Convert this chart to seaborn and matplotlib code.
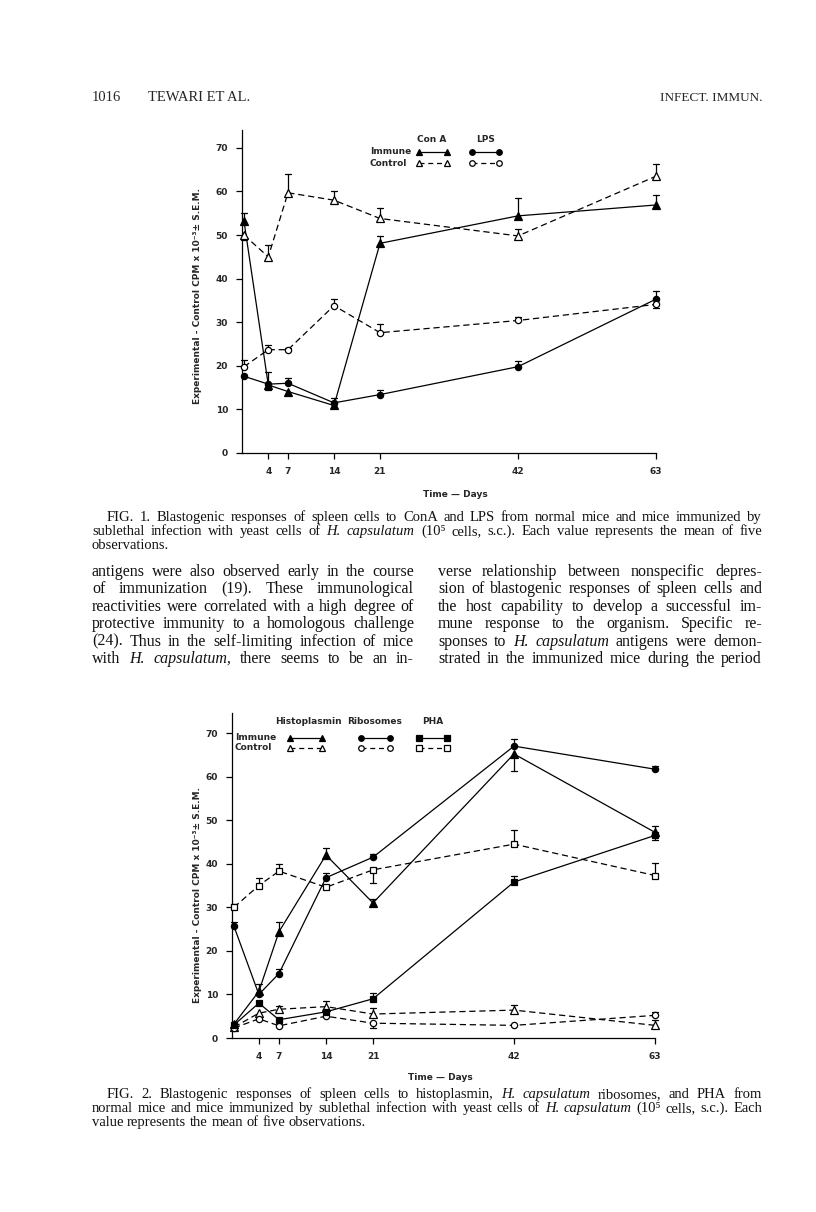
import matplotlib
matplotlib.use("Agg")
import matplotlib.pyplot as plt
from matplotlib.lines import Line2D
import seaborn as sns

# Fig. 1 data
days1 = [0.3, 4, 7, 14, 21, 42, 63]
cona_immune = [53.2, 15.6, 14.1, 10.9, 48.1, 54.4, 56.9]
cona_immune_up = [1.8, 3.0, 0, 0, 1.7, 4.1, 2.3]
cona_immune_dn = [0, 0, 0, 0, 0, 0, 0]
lps_immune = [17.6, 15.8, 16.0, 11.5, 13.4, 19.8, 35.3]
lps_immune_up = [0, 0, 1.3, 1.2, 1.1, 1.3, 1.9]
lps_immune_dn = [0, 1.4, 0, 0, 0, 0, 0]
cona_control = [50.0, 45.0, 59.7, 58.0, 53.8, 49.8, 63.5]
cona_control_up = [0, 2.7, 4.2, 2.2, 2.3, 1.7, 2.8]
cona_control_dn = [1.1, 0, 0, 0, 0, 0, 0]
lps_control = [19.8, 23.7, 23.7, 33.8, 27.6, 30.4, 34.1]
lps_control_up = [1.6, 1.0, 0.5, 1.5, 2.0, 0.7, 0]
lps_control_dn = [0, 0, 0, 0, 0, 0, 0.9]

# Fig. 2 data
days2 = [0.3, 4, 7, 14, 21, 42, 63]
histo_immune = [3.2, 10.7, 24.4, 42.0, 31.0, 65.2, 47.2]
histo_immune_up = [0, 1.6, 2.3, 1.6, 0.8, 0, 1.4]
histo_immune_dn = [0, 0, 0, 0, 0.6, 3.9, 0]
ribo_immune = [25.6, 10.0, 14.8, 36.8, 41.5, 67.0, 61.7]
ribo_immune_up = [1.0, 0, 1.0, 1.0, 0.7, 1.7, 0.8]
ribo_immune_dn = [0, 0, 0, 0, 0, 0, 0]
pha_immune = [3.0, 8.0, 4.2, 6.0, 9.0, 35.8, 46.5]
pha_immune_up = [0, 0, 0, 0, 1.3, 1.5, 0]
pha_immune_dn = [0, 0, 0, 0, 0, 0, 1.0]
histo_control = [2.5, 5.7, 6.6, 7.2, 5.5, 6.4, 2.9]
histo_control_up = [0, 0, 0.8, 1.2, 1.3, 1.1, 1.2]
histo_control_dn = [0, 0, 0, 0, 0, 0, 0]
ribo_control = [2.3, 4.4, 2.8, 5.0, 3.4, 2.9, 5.2]
ribo_control_up = [0, 0, 0, 0, 0, 0, 0.8]
ribo_control_dn = [0, 0, 0, 0, 1.0, 0, 0]
pha_control = [30.0, 35.0, 38.3, 34.6, 38.6, 44.5, 37.3]
pha_control_up = [0.7, 1.8, 1.6, 0, 0, 3.3, 2.9]
pha_control_dn = [0, 0, 0, 0, 3.1, 0, 0]

x_ticks = [4, 7, 14, 21, 42, 63]
y_ticks = [0, 10, 20, 30, 40, 50, 60, 70]
y_label = "Experimental - Control CPM x 10⁻³± S.E.M."

header_left = "1016"
header_title = "TEWARI ET AL."
header_right = "INFECT. IMMUN."

caption1 = [
    "FIG. 1. Blastogenic responses of spleen cells to ConA and LPS from normal mice and mice immunized by",
    "sublethal infection with yeast cells of ~H. ~capsulatum (10⁵ cells, s.c.). Each value represents the mean of five",
    "observations.",
]
body_left = [
    "antigens were also observed early in the course",
    "of immunization (19). These immunological",
    "reactivities were correlated with a high degree of",
    "protective immunity to a homologous challenge",
    "(24). Thus in the self-limiting infection of mice",
    "with ~H. ~capsulatum, there seems to be an in-",
]
body_right = [
    "verse relationship between nonspecific depres-",
    "sion of blastogenic responses of spleen cells and",
    "the host capability to develop a successful im-",
    "mune response to the organism. Specific re-",
    "sponses to ~H. ~capsulatum antigens were demon-",
    "strated in the immunized mice during the period",
]
caption2 = [
    "FIG. 2. Blastogenic responses of spleen cells to histoplasmin, ~H. ~capsulatum ribosomes, and PHA from",
    "normal mice and mice immunized by sublethal infection with yeast cells of ~H. ~capsulatum (10⁵ cells, s.c.). Each",
    "value represents the mean of five observations.",
]

sns.set_theme(style="ticks")
plt.rcParams["font.family"] = ["DejaVu Sans"]

W, H = 816, 1212
fig = plt.figure(figsize=(W / 100, H / 100), dpi=100)
fig.patch.set_facecolor("white")
renderer = fig.canvas.get_renderer()
SERIF = ["Liberation Serif", "DejaVu Serif"]


def fx(x):
    return x / W


def fy(y):
    return 1 - y / H


def draw_series(ax, days, vals, up, dn, marker, filled, dashed, ms):
    sns.lineplot(x=days, y=vals, ax=ax, color="black", marker=marker,
                 markersize=ms, markerfacecolor="black" if filled else "white",
                 markeredgecolor="black", markeredgewidth=0.9, linewidth=0.9,
                 linestyle=(0, (5, 3)) if dashed else "-", clip_on=False, zorder=3)
    # one-sided S.E.M. bars
    for d, v, u, l in zip(days, vals, up, dn):
        for e in (u, -l):
            if e:
                ax.plot([d, d], [v, v + e], color="black", lw=0.9, clip_on=False, zorder=2)
                ax.plot([d - 0.45, d + 0.45], [v + e, v + e], color="black",
                        lw=0.9, clip_on=False, zorder=2)


def style_axis(ax, top):
    ax.set_xlim(0, 63)
    ax.set_ylim(0, top)
    ax.set_xticks(x_ticks)
    ax.set_yticks(y_ticks)
    ax.set_xlabel("")
    ax.set_ylabel("")
    sns.despine(ax=ax)
    for s in ("left", "bottom"):
        ax.spines[s].set_linewidth(0.9)
        ax.spines[s].set_color("black")
    ax.tick_params(length=4, width=0.9, color="black", labelsize=6.5, pad=6)
    for lab in ax.get_xticklabels() + ax.get_yticklabels():
        lab.set_fontweight("bold")
    ax.set_facecolor("white")
    ax.grid(False)


def legend_sample(x0, x1, y, marker, filled, dashed, ms):
    fig.add_artist(Line2D([fx(x0), fx(x1)], [fy(y), fy(y)], transform=fig.transFigure,
                          color="black", lw=0.9, marker=marker, markersize=ms,
                          markerfacecolor="black" if filled else "white",
                          markeredgecolor="black", markeredgewidth=0.9,
                          linestyle=(0, (4, 3)) if dashed else "-"))


def small_bold(x, y, s, ha="left", rot=0):
    fig.text(fx(x), fy(y), s, fontsize=6.5, fontweight="bold", ha=ha, va="center",
             rotation=rot)


def fit_size(lines, width, smax):
    # largest size (<= smax) at which every line still fits with plain spaces
    best = smax
    for line in lines:
        t = fig.text(0, 0, line.replace("~", ""), fontsize=smax, family=SERIF)
        w = t.get_window_extent(renderer).width
        t.remove()
        best = min(best, smax * width / w)
    return best


def justify(line, x0, x1, y, size, stretch=True):
    items = []
    for w in line.split():
        italic = w.startswith("~")
        t = fig.text(0, fy(y), w.lstrip("~"), fontsize=size, family=SERIF,
                     style="italic" if italic else "normal", va="baseline", color="#111111")
        items.append((t, t.get_window_extent(renderer).width))
    total = sum(w for _, w in items)
    if stretch and len(items) > 1:
        gap = (x1 - x0 - total) / (len(items) - 1)
    else:
        gap = size * 100 / 72 * 0.25
    x = x0
    for t, w in items:
        t.set_x(fx(x))
        x += w + gap


# ---- Fig. 1 ----
ax1 = fig.add_axes([fx(242), fy(453), (656 - 242) / W, (453 - 130) / H])
draw_series(ax1, days1, cona_immune, cona_immune_up, cona_immune_dn, "^", True, False, 6)
draw_series(ax1, days1, cona_control, cona_control_up, cona_control_dn, "^", False, True, 6)
draw_series(ax1, days1, lps_immune, lps_immune_up, lps_immune_dn, "o", True, False, 4.5)
draw_series(ax1, days1, lps_control, lps_control_up, lps_control_dn, "o", False, True, 4.5)
style_axis(ax1, 74.1)

small_bold(432, 139, "Con A", ha="center")
small_bold(486, 139, "LPS", ha="center")
small_bold(370, 152, "Immune")
small_bold(370, 163, "Control")
legend_sample(419, 447, 152, "^", True, False, 5)
legend_sample(419, 447, 163, "^", False, True, 5)
legend_sample(472, 499, 152, "o", True, False, 4)
legend_sample(472, 499, 163, "o", False, True, 4)
small_bold(198, 296, y_label, ha="center", rot=90)
small_bold(455, 495, "Time — Days", ha="center")

# ---- Fig. 2 ----
ax2 = fig.add_axes([fx(232), fy(1038), (655 - 232) / W, (1038 - 713) / H])
draw_series(ax2, days2, histo_immune, histo_immune_up, histo_immune_dn, "^", True, False, 6)
draw_series(ax2, days2, histo_control, histo_control_up, histo_control_dn, "^", False, True, 6)
draw_series(ax2, days2, ribo_immune, ribo_immune_up, ribo_immune_dn, "o", True, False, 4.5)
draw_series(ax2, days2, ribo_control, ribo_control_up, ribo_control_dn, "o", False, True, 4.5)
draw_series(ax2, days2, pha_immune, pha_immune_up, pha_immune_dn, "s", True, False, 4.2)
draw_series(ax2, days2, pha_control, pha_control_up, pha_control_dn, "s", False, True, 4.2)
style_axis(ax2, 74.6)

small_bold(308, 721, "Histoplasmin", ha="center")
small_bold(375, 721, "Ribosomes", ha="center")
small_bold(433, 721, "PHA", ha="center")
small_bold(235, 738, "Immune")
small_bold(235, 748, "Control")
legend_sample(290, 322, 738, "^", True, False, 5)
legend_sample(290, 322, 748, "^", False, True, 5)
legend_sample(361, 390, 738, "o", True, False, 4)
legend_sample(361, 390, 748, "o", False, True, 4)
legend_sample(419, 447, 738, "s", True, False, 4)
legend_sample(419, 447, 748, "s", False, True, 4)
small_bold(197, 895, y_label, ha="center", rot=90)
small_bold(440, 1077, "Time — Days", ha="center")

# ---- page text ----
fig.text(fx(92), fy(101), header_left, fontsize=10.5, family=SERIF, va="baseline")
fig.text(fx(148), fy(101), header_title, fontsize=10.5, family=SERIF, va="baseline")
fig.text(fx(762), fy(101), header_right, fontsize=9.5, family=SERIF,
         va="baseline", ha="right")

cap_size = min(fit_size(caption1[1:2] + caption2[1:2], 670, 10.5),
               fit_size(caption1[:1] + caption2[:1], 655, 10.5))
for i, line in enumerate(caption1):
    last = i == len(caption1) - 1
    justify(line, 107 if i == 0 else 92, 762, 521 + 14 * i, cap_size, stretch=not last)

body_size = min(fit_size(body_left, 322, 11.5), fit_size(body_right, 324, 11.5))
for i, line in enumerate(body_left):
    justify(line, 92, 414, 576 + 17.4 * i, body_size)
for i, line in enumerate(body_right):
    justify(line, 438, 762, 576 + 17.4 * i, body_size)

for i, line in enumerate(caption2):
    last = i == len(caption2) - 1
    justify(line, 107 if i == 0 else 92, 762, 1098 + 14 * i, cap_size, stretch=not last)

fig.savefig("out.png", dpi=100, facecolor="white")
